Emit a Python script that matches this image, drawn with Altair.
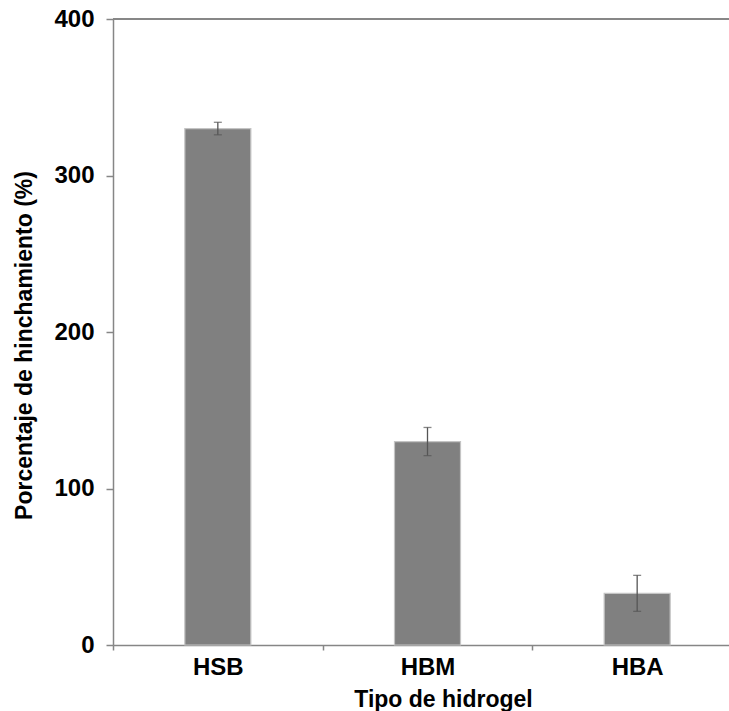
import altair as alt
import pandas as pd

# Swelling percentage per hydrogel type, with standard deviation
hidrogeles = ["HSB", "HBM", "HBA"]
hinchamiento = [330, 130, 33]
desviacion = [4, 9, 11.5]

df = pd.DataFrame({"tipo": hidrogeles, "valor": hinchamiento, "sd": desviacion})
df["lo"] = df["valor"] - df["sd"]
df["hi"] = df["valor"] + df["sd"]

FONT = "Liberation Sans"
AXIS_GREY = "#868686"

x_scale = alt.Scale(domain=hidrogeles, range=[0, 629], paddingInner=0, paddingOuter=0)
y_scale = alt.Scale(domain=[0, 400], nice=False)

x_enc = alt.X(
    "tipo:N",
    scale=x_scale,
    sort=hidrogeles,
    axis=alt.Axis(
        title="Tipo de hidrogel",
        labelAngle=0,
        tickBand="extent",
        tickSize=5,
        labelPadding=5,
        titlePadding=9,
        domainColor=AXIS_GREY,
        domainWidth=1.5,
        tickColor=AXIS_GREY,
        tickWidth=1.5,
        titleX=330,
    ),
)

y_enc = alt.Y(
    "valor:Q",
    scale=y_scale,
    axis=alt.Axis(
        title="Porcentaje de hinchamiento (%)",
        values=[0, 100, 200, 300, 400],
        grid=False,
        tickSize=7,
        labelPadding=12,
        titlePadding=17,
        domainColor=AXIS_GREY,
        domainWidth=1.5,
        tickColor=AXIS_GREY,
        tickWidth=1.5,
        titleY=326,
    ),
)

bars = alt.Chart(df).mark_bar(
    size=66, color="#808080", stroke="#c4c4c4", strokeWidth=1.2
).encode(x=x_enc, y=y_enc)

err = alt.Chart(df).mark_rule(color="#555555", strokeWidth=1.3).encode(
    x=alt.X("tipo:N", scale=x_scale, sort=hidrogeles),
    y=alt.Y("lo:Q", scale=y_scale),
    y2="hi:Q",
)

caps_hi = alt.Chart(df).mark_tick(
    color="#555555", size=8, thickness=1.3, orient="horizontal"
).encode(
    x=alt.X("tipo:N", scale=x_scale, sort=hidrogeles),
    y=alt.Y("hi:Q", scale=y_scale),
)
caps_lo = alt.Chart(df).mark_tick(
    color="#555555", size=8, thickness=1.3, orient="horizontal"
).encode(
    x=alt.X("tipo:N", scale=x_scale, sort=hidrogeles),
    y=alt.Y("lo:Q", scale=y_scale),
)

# Upper frame line at the top of the value axis
top_line = alt.Chart(df).mark_rule(color=AXIS_GREY, strokeWidth=1.5).encode(
    y=alt.datum(400, scale=y_scale)
)

chart = (
    alt.layer(bars, err, caps_hi, caps_lo, top_line)
    .properties(
        width=616,
        height=626,
        autosize=alt.AutoSizeParams(type="none"),
        padding={"left": 113, "top": 19, "right": 0, "bottom": 66},
    )
    .configure_view(stroke=None)
    .configure_axis(
        labelFont=FONT,
        titleFont=FONT,
        labelFontSize=24,
        titleFontSize=23,
        labelFontWeight="bold",
        titleFontWeight="bold",
        labelColor="#000000",
        titleColor="#000000",
    )
)

chart.save("out.html", embed_options={"renderer": "svg", "actions": False})
